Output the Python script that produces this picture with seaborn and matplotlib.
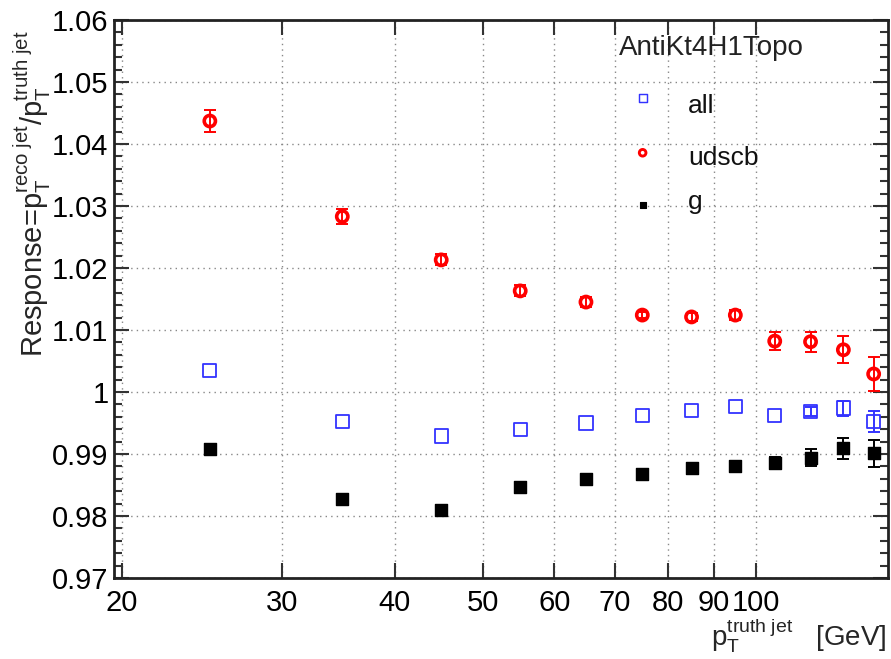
import matplotlib
matplotlib.use("Agg")
import matplotlib.pyplot as plt
import matplotlib.ticker as mticker
import numpy as np
import pandas as pd
import seaborn as sns

# Jet response vs truth pT, AntiKt4H1Topo
pt_bins = [25, 35, 45, 55, 65, 75, 85, 95, 105, 115, 125, 135]

resp_all = [1.0034, 0.9952, 0.9929, 0.9939, 0.9950, 0.9962, 0.9970, 0.9976,
            0.9962, 0.9969, 0.9974, 0.9952]
err_all = [0.0, 0.0, 0.0, 0.0, 0.0, 0.0, 0.0, 0.0,
           0.0, 0.0007, 0.0012, 0.0017]

resp_udscb = [1.0437, 1.0283, 1.0213, 1.0163, 1.0145, 1.0124, 1.0121, 1.0124,
              1.0082, 1.0081, 1.0068, 1.0029]
err_udscb = [0.0018, 0.0012, 0.0009, 0.0009, 0.0008, 0.0005, 0.0006, 0.0008,
             0.0014, 0.0016, 0.0022, 0.0028]

resp_g = [0.9908, 0.9827, 0.9810, 0.9846, 0.9859, 0.9868, 0.9878, 0.9880,
          0.9885, 0.9894, 0.9909, 0.9901]
err_g = [0.0006, 0.0, 0.0, 0.0, 0.0, 0.0005, 0.0006, 0.0006,
         0.0010, 0.0014, 0.0017, 0.0022]

x_ticks = [20, 30, 40, 50, 60, 70, 80, 90, 100]
y_ticks = [0.97, 0.98, 0.99, 1.00, 1.01, 1.02, 1.03, 1.04, 1.05, 1.06]
y_tick_labels = ["0.97", "0.98", "0.99", "1", "1.01", "1.02", "1.03", "1.04", "1.05", "1.06"]

sns.set_style("ticks")
plt.rcParams["font.family"] = ["Liberation Sans", "DejaVu Sans"]
plt.rcParams["mathtext.fontset"] = "custom"
plt.rcParams["mathtext.rm"] = "Liberation Sans"
plt.rcParams["mathtext.it"] = "Liberation Sans:italic"

df = pd.concat([
    pd.DataFrame({"pt": pt_bins, "resp": resp_all, "err": err_all, "flavour": "all"}),
    pd.DataFrame({"pt": pt_bins, "resp": resp_udscb, "err": err_udscb, "flavour": "udscb"}),
    pd.DataFrame({"pt": pt_bins, "resp": resp_g, "err": err_g, "flavour": "g"}),
])

fig = plt.figure(figsize=(8.91, 6.59), dpi=100)
ax = fig.add_axes([0.128, 0.123, 0.8686, 0.8467])

styles = {
    "all":   dict(color="#3333ff", marker="s", size=90, filled=False, lw=1.3),
    "udscb": dict(color="#ff0000", marker="o", size=65, filled=False, lw=2.6),
    "g":     dict(color="#000000", marker="s", size=70, filled=True, lw=1.0),
}

for name, st in styles.items():
    sub = df[df["flavour"] == name]
    bars = sub[sub["err"] > 0]
    ax.errorbar(bars["pt"], bars["resp"], yerr=bars["err"], fmt="none",
                ecolor=st["color"], elinewidth=1.4, capsize=4, capthick=1.4,
                zorder=2)
    sns.scatterplot(data=sub, x="pt", y="resp", ax=ax, marker=st["marker"],
                    s=st["size"],
                    facecolor=st["color"] if st["filled"] else "none",
                    edgecolor=st["color"], linewidth=st["lw"], zorder=3,
                    legend=False)

ax.set_xscale("log")
ax.set_xlim(19.6, 140)
ax.set_ylim(0.97, 1.06)

ax.xaxis.set_major_locator(mticker.FixedLocator(x_ticks))
ax.xaxis.set_major_formatter(mticker.FixedFormatter([str(v) for v in x_ticks]))
ax.xaxis.set_minor_locator(mticker.NullLocator())
ax.yaxis.set_major_locator(mticker.FixedLocator(y_ticks))
ax.yaxis.set_major_formatter(mticker.FixedFormatter(y_tick_labels))
ax.yaxis.set_minor_locator(mticker.MultipleLocator(0.002))

ax.tick_params(axis="both", which="both", direction="in", top=True, right=True,
               labelsize=21, width=1.5, colors="#333333", labelcolor="black")
ax.tick_params(axis="both", which="major", length=11)
ax.tick_params(axis="both", which="minor", length=6)
ax.tick_params(axis="x", pad=8)
ax.tick_params(axis="y", pad=4)

for sp in ax.spines.values():
    sp.set_linewidth(2.0)
    sp.set_color("#222222")

ax.grid(True, which="major", linestyle=(0, (1, 3)), color="#888888", linewidth=1.0)

ax.set_xlabel("")
ax.set_ylabel("")

# axis titles in the corner style
fig.text(0.995, 0.006, r"$\mathrm{p}_{\mathrm{T}}^{\mathrm{truth\ jet}}$   [GeV]",
         ha="right", va="bottom", fontsize=20)
fig.text(0.036, 0.458,
         r"Response=$\mathrm{p}_{\mathrm{T}}^{\mathrm{reco\ jet}}$/$\mathrm{p}_{\mathrm{T}}^{\mathrm{truth\ jet}}$",
         rotation=90, ha="center", va="bottom", fontsize=21)

# legend block
ax.text(0.652, 0.937, "AntiKt4H1Topo", transform=ax.transAxes, fontsize=20,
        ha="left", va="baseline", color="#222222")
leg_items = [("all", 0.860, 0.833), ("udscb", 0.762, 0.740), ("g", 0.668, 0.662)]
for name, ym, yt in leg_items:
    st = styles[name]
    ax.scatter([0.683], [ym], transform=ax.transAxes, marker=st["marker"],
               s=st["size"] * 0.35,
               facecolor=st["color"] if st["filled"] else "none",
               edgecolor=st["color"], linewidth=st["lw"] * 0.8, zorder=4)
    ax.text(0.742, yt, name, transform=ax.transAxes, fontsize=19,
            ha="left", va="baseline", color="#111111")

fig.savefig("out.png", dpi=100)
